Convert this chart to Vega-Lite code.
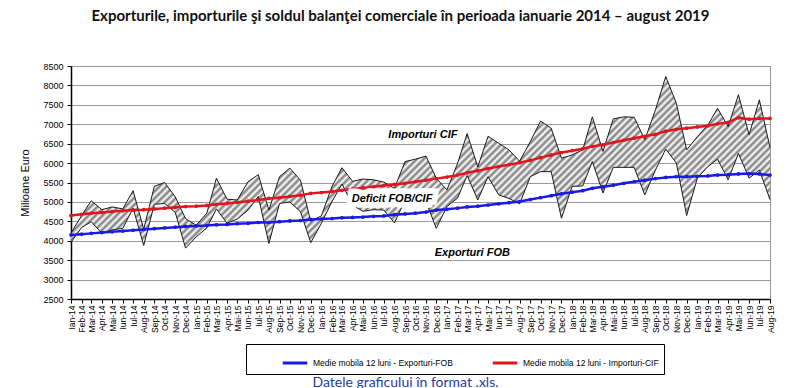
{
  "$schema": "https://vega.github.io/schema/vega-lite/v6.json",
  "width": 699,
  "height": 233,
  "autosize": "none",
  "padding": {"left": 71, "top": 66, "right": 30, "bottom": 89},
  "background": "white",
  "config": {
    "font": "Liberation Sans",
    "numberFormat": "d",
    "view": {"stroke": "#9a9a9a", "strokeWidth": 1},
    "axisY": {
      "tickCount": 12,
      "labelOverlap": false,
      "grid": true,
      "gridColor": "#9a9a9a",
      "gridWidth": 1,
      "domainColor": "#000000",
      "domainWidth": 1.5,
      "tickColor": "#000000",
      "tickSize": 4,
      "labelFontSize": 9,
      "labelColor": "#000000",
      "labelPadding": 4,
      "titleFont": "Liberation Sans",
      "titleFontSize": 11,
      "titleFontWeight": "normal",
      "titleColor": "#000000",
      "titlePadding": 12
    }
  },
  "title": {
    "text": "Exporturile, importurile şi soldul balanţei comerciale în perioada ianuarie 2014 – august 2019",
    "font": "Lato",
    "fontSize": 15,
    "fontWeight": "bold",
    "color": "#111111",
    "anchor": "middle",
    "dx": -20,
    "offset": 38
  },
  "datasets": {
    "comert": [
      {"luna": "2014-01-01", "exp": 3960, "imp": 4200, "mexp": 4150, "mimp": 4650},
      {"luna": "2014-02-01", "exp": 4340, "imp": 4650, "mexp": 4170, "mimp": 4680},
      {"luna": "2014-03-01", "exp": 4490, "imp": 5030, "mexp": 4190, "mimp": 4710},
      {"luna": "2014-04-01", "exp": 4190, "imp": 4800, "mexp": 4210, "mimp": 4730},
      {"luna": "2014-05-01", "exp": 4280, "imp": 4870, "mexp": 4230, "mimp": 4750},
      {"luna": "2014-06-01", "exp": 4320, "imp": 4820, "mexp": 4250, "mimp": 4770},
      {"luna": "2014-07-01", "exp": 4840, "imp": 5290, "mexp": 4270, "mimp": 4790},
      {"luna": "2014-08-01", "exp": 3880, "imp": 4300, "mexp": 4290, "mimp": 4800},
      {"luna": "2014-09-01", "exp": 4940, "imp": 5400, "mexp": 4310, "mimp": 4820},
      {"luna": "2014-10-01", "exp": 4960, "imp": 5500, "mexp": 4330, "mimp": 4840},
      {"luna": "2014-11-01", "exp": 4730, "imp": 5130, "mexp": 4350, "mimp": 4860},
      {"luna": "2014-12-01", "exp": 3810, "imp": 4570, "mexp": 4370, "mimp": 4880},
      {"luna": "2015-01-01", "exp": 4100, "imp": 4400, "mexp": 4380, "mimp": 4890},
      {"luna": "2015-02-01", "exp": 4330, "imp": 4710, "mexp": 4390, "mimp": 4910},
      {"luna": "2015-03-01", "exp": 4820, "imp": 5610, "mexp": 4410, "mimp": 4940},
      {"luna": "2015-04-01", "exp": 4450, "imp": 5070, "mexp": 4420, "mimp": 4960},
      {"luna": "2015-05-01", "exp": 4560, "imp": 5050, "mexp": 4440, "mimp": 4990},
      {"luna": "2015-06-01", "exp": 4790, "imp": 5520, "mexp": 4450, "mimp": 5020},
      {"luna": "2015-07-01", "exp": 5140, "imp": 5700, "mexp": 4470, "mimp": 5050},
      {"luna": "2015-08-01", "exp": 3930, "imp": 4790, "mexp": 4470, "mimp": 5090},
      {"luna": "2015-09-01", "exp": 4960, "imp": 5650, "mexp": 4490, "mimp": 5110},
      {"luna": "2015-10-01", "exp": 5000, "imp": 5870, "mexp": 4510, "mimp": 5140},
      {"luna": "2015-11-01", "exp": 4750, "imp": 5560, "mexp": 4520, "mimp": 5170},
      {"luna": "2015-12-01", "exp": 3950, "imp": 4500, "mexp": 4550, "mimp": 5220},
      {"luna": "2016-01-01", "exp": 4450, "imp": 4640, "mexp": 4560, "mimp": 5240},
      {"luna": "2016-02-01", "exp": 5010, "imp": 5400, "mexp": 4570, "mimp": 5270},
      {"luna": "2016-03-01", "exp": 5460, "imp": 5880, "mexp": 4590, "mimp": 5300},
      {"luna": "2016-04-01", "exp": 4920, "imp": 5530, "mexp": 4600, "mimp": 5330},
      {"luna": "2016-05-01", "exp": 4760, "imp": 5590, "mexp": 4610, "mimp": 5360},
      {"luna": "2016-06-01", "exp": 4800, "imp": 5570, "mexp": 4630, "mimp": 5390},
      {"luna": "2016-07-01", "exp": 4790, "imp": 5510, "mexp": 4640, "mimp": 5420},
      {"luna": "2016-08-01", "exp": 4460, "imp": 5350, "mexp": 4670, "mimp": 5450},
      {"luna": "2016-09-01", "exp": 5050, "imp": 6040, "mexp": 4690, "mimp": 5480},
      {"luna": "2016-10-01", "exp": 4950, "imp": 6100, "mexp": 4710, "mimp": 5520},
      {"luna": "2016-11-01", "exp": 5010, "imp": 6180, "mexp": 4740, "mimp": 5560},
      {"luna": "2016-12-01", "exp": 4320, "imp": 5610, "mexp": 4790, "mimp": 5600},
      {"luna": "2017-01-01", "exp": 4880, "imp": 5310, "mexp": 4810, "mimp": 5640},
      {"luna": "2017-02-01", "exp": 5100, "imp": 5990, "mexp": 4840, "mimp": 5690},
      {"luna": "2017-03-01", "exp": 5680, "imp": 6760, "mexp": 4870, "mimp": 5750},
      {"luna": "2017-04-01", "exp": 5050, "imp": 5900, "mexp": 4890, "mimp": 5800},
      {"luna": "2017-05-01", "exp": 5650, "imp": 6690, "mexp": 4920, "mimp": 5860},
      {"luna": "2017-06-01", "exp": 5180, "imp": 6510, "mexp": 4950, "mimp": 5910},
      {"luna": "2017-07-01", "exp": 5090, "imp": 6340, "mexp": 4980, "mimp": 5960},
      {"luna": "2017-08-01", "exp": 4950, "imp": 6050, "mexp": 5010, "mimp": 6010},
      {"luna": "2017-09-01", "exp": 5650, "imp": 6550, "mexp": 5060, "mimp": 6070},
      {"luna": "2017-10-01", "exp": 5780, "imp": 7080, "mexp": 5110, "mimp": 6140},
      {"luna": "2017-11-01", "exp": 5780, "imp": 6900, "mexp": 5160, "mimp": 6210},
      {"luna": "2017-12-01", "exp": 4580, "imp": 6125, "mexp": 5210, "mimp": 6270},
      {"luna": "2018-01-01", "exp": 5400, "imp": 6210, "mexp": 5250, "mimp": 6320},
      {"luna": "2018-02-01", "exp": 5410, "imp": 6340, "mexp": 5290, "mimp": 6370},
      {"luna": "2018-03-01", "exp": 6040, "imp": 7190, "mexp": 5350, "mimp": 6430},
      {"luna": "2018-04-01", "exp": 5230, "imp": 6300, "mexp": 5390, "mimp": 6470},
      {"luna": "2018-05-01", "exp": 5890, "imp": 7140, "mexp": 5430, "mimp": 6530},
      {"luna": "2018-06-01", "exp": 5890, "imp": 7190, "mexp": 5480, "mimp": 6590},
      {"luna": "2018-07-01", "exp": 5890, "imp": 7180, "mexp": 5520, "mimp": 6640},
      {"luna": "2018-08-01", "exp": 5180, "imp": 6600, "mexp": 5560, "mimp": 6690},
      {"luna": "2018-09-01", "exp": 5820, "imp": 7370, "mexp": 5600, "mimp": 6740},
      {"luna": "2018-10-01", "exp": 6360, "imp": 8230, "mexp": 5630, "mimp": 6820},
      {"luna": "2018-11-01", "exp": 6000, "imp": 7540, "mexp": 5650, "mimp": 6870},
      {"luna": "2018-12-01", "exp": 4650, "imp": 6340, "mexp": 5650, "mimp": 6900},
      {"luna": "2019-01-01", "exp": 5610, "imp": 6680, "mexp": 5660, "mimp": 6930},
      {"luna": "2019-02-01", "exp": 5910, "imp": 6980, "mexp": 5670, "mimp": 6960},
      {"luna": "2019-03-01", "exp": 6100, "imp": 7410, "mexp": 5690, "mimp": 7010},
      {"luna": "2019-04-01", "exp": 5570, "imp": 6940, "mexp": 5700, "mimp": 7050},
      {"luna": "2019-05-01", "exp": 6250, "imp": 7760, "mexp": 5720, "mimp": 7170},
      {"luna": "2019-06-01", "exp": 5610, "imp": 6730, "mexp": 5730, "mimp": 7130},
      {"luna": "2019-07-01", "exp": 5820, "imp": 7630, "mexp": 5720, "mimp": 7150},
      {"luna": "2019-08-01", "exp": 5060, "imp": 6400, "mexp": 5690, "mimp": 7150}
    ],
    "etichete": [
      {"luna": "2016-10-23", "v": 6730, "t": "Importuri CIF"},
      {"luna": "2016-07-25", "v": 5077, "t": "Deficit FOB/CIF"},
      {"luna": "2017-03-16", "v": 3685, "t": "Exporturi FOB"}
    ]
  },
  "encoding": {
    "x": {
      "field": "luna",
      "type": "temporal",
      "title": "Datele graficului în format .xls.",
      "scale": {
        "type": "utc",
        "domain": [
          {"year": 2014, "month": 1, "date": 1, "utc": true},
          {"year": 2019, "month": 8, "date": 1, "utc": true}
        ]
      },
      "axis": {
        "tickCount": {"interval": "month", "step": 1},
        "labelExpr": "['Ian','Feb','Mar','Apr','Mai','Iun','Iul','Aug','Sep','Oct','Nov','Dec'][utcmonth(datum.value)] + '-' + utcFormat(datum.value, '%y')",
        "labelAngle": 270,
        "labelFontSize": 8.5,
        "labelColor": "#000000",
        "labelPadding": 2,
        "labelOverlap": false,
        "labelFlush": false,
        "tickColor": "#000000",
        "tickSize": 4,
        "domainColor": "#000000",
        "domainWidth": 1.5,
        "grid": false,
        "titleFont": "Lato",
        "titleFontSize": 14,
        "titleFontWeight": "normal",
        "titleColor": "#1f3ca6",
        "titleX": 334,
        "titleY": 83,
        "titleBaseline": "middle",
        "titleAlign": "center"
      }
    }
  },
  "layer": [
    {
      "data": {"name": "comert"},
      "mark": {
        "type": "area",
        "interpolate": "linear",
        "fill": {
          "gradient": "linear",
          "x1": 0, "y1": 0, "x2": 1.175, "y2": 0.2886,
          "stops": [
            {"offset": 0, "color": "#ffffff"}, {"offset": 0.004, "color": "#7a7a7a"}, {"offset": 0.008, "color": "#ffffff"}, {"offset": 0.012, "color": "#7a7a7a"}, {"offset": 0.016, "color": "#ffffff"}, {"offset": 0.02, "color": "#7a7a7a"}, {"offset": 0.024, "color": "#ffffff"}, {"offset": 0.028, "color": "#7a7a7a"}, {"offset": 0.032, "color": "#ffffff"}, {"offset": 0.036, "color": "#7a7a7a"}, {"offset": 0.04, "color": "#ffffff"}, {"offset": 0.044, "color": "#7a7a7a"}, {"offset": 0.048, "color": "#ffffff"}, {"offset": 0.052, "color": "#7a7a7a"}, {"offset": 0.056, "color": "#ffffff"}, {"offset": 0.06, "color": "#7a7a7a"}, {"offset": 0.064, "color": "#ffffff"}, {"offset": 0.068, "color": "#7a7a7a"}, {"offset": 0.072, "color": "#ffffff"}, {"offset": 0.076, "color": "#7a7a7a"}, {"offset": 0.08, "color": "#ffffff"}, {"offset": 0.084, "color": "#7a7a7a"}, {"offset": 0.088, "color": "#ffffff"}, {"offset": 0.092, "color": "#7a7a7a"}, {"offset": 0.096, "color": "#ffffff"},
            {"offset": 0.1, "color": "#7a7a7a"}, {"offset": 0.104, "color": "#ffffff"}, {"offset": 0.108, "color": "#7a7a7a"}, {"offset": 0.112, "color": "#ffffff"}, {"offset": 0.116, "color": "#7a7a7a"}, {"offset": 0.12, "color": "#ffffff"}, {"offset": 0.124, "color": "#7a7a7a"}, {"offset": 0.128, "color": "#ffffff"}, {"offset": 0.132, "color": "#7a7a7a"}, {"offset": 0.136, "color": "#ffffff"}, {"offset": 0.14, "color": "#7a7a7a"}, {"offset": 0.144, "color": "#ffffff"}, {"offset": 0.148, "color": "#7a7a7a"}, {"offset": 0.152, "color": "#ffffff"}, {"offset": 0.156, "color": "#7a7a7a"}, {"offset": 0.16, "color": "#ffffff"}, {"offset": 0.164, "color": "#7a7a7a"}, {"offset": 0.168, "color": "#ffffff"}, {"offset": 0.172, "color": "#7a7a7a"}, {"offset": 0.176, "color": "#ffffff"}, {"offset": 0.18, "color": "#7a7a7a"}, {"offset": 0.184, "color": "#ffffff"}, {"offset": 0.188, "color": "#7a7a7a"}, {"offset": 0.192, "color": "#ffffff"}, {"offset": 0.196, "color": "#7a7a7a"},
            {"offset": 0.2, "color": "#ffffff"}, {"offset": 0.204, "color": "#7a7a7a"}, {"offset": 0.208, "color": "#ffffff"}, {"offset": 0.212, "color": "#7a7a7a"}, {"offset": 0.216, "color": "#ffffff"}, {"offset": 0.22, "color": "#7a7a7a"}, {"offset": 0.224, "color": "#ffffff"}, {"offset": 0.228, "color": "#7a7a7a"}, {"offset": 0.232, "color": "#ffffff"}, {"offset": 0.236, "color": "#7a7a7a"}, {"offset": 0.24, "color": "#ffffff"}, {"offset": 0.244, "color": "#7a7a7a"}, {"offset": 0.248, "color": "#ffffff"}, {"offset": 0.252, "color": "#7a7a7a"}, {"offset": 0.256, "color": "#ffffff"}, {"offset": 0.26, "color": "#7a7a7a"}, {"offset": 0.264, "color": "#ffffff"}, {"offset": 0.268, "color": "#7a7a7a"}, {"offset": 0.272, "color": "#ffffff"}, {"offset": 0.276, "color": "#7a7a7a"}, {"offset": 0.28, "color": "#ffffff"}, {"offset": 0.284, "color": "#7a7a7a"}, {"offset": 0.288, "color": "#ffffff"}, {"offset": 0.292, "color": "#7a7a7a"}, {"offset": 0.296, "color": "#ffffff"},
            {"offset": 0.3, "color": "#7a7a7a"}, {"offset": 0.304, "color": "#ffffff"}, {"offset": 0.308, "color": "#7a7a7a"}, {"offset": 0.312, "color": "#ffffff"}, {"offset": 0.316, "color": "#7a7a7a"}, {"offset": 0.32, "color": "#ffffff"}, {"offset": 0.324, "color": "#7a7a7a"}, {"offset": 0.328, "color": "#ffffff"}, {"offset": 0.332, "color": "#7a7a7a"}, {"offset": 0.336, "color": "#ffffff"}, {"offset": 0.34, "color": "#7a7a7a"}, {"offset": 0.344, "color": "#ffffff"}, {"offset": 0.348, "color": "#7a7a7a"}, {"offset": 0.352, "color": "#ffffff"}, {"offset": 0.356, "color": "#7a7a7a"}, {"offset": 0.36, "color": "#ffffff"}, {"offset": 0.364, "color": "#7a7a7a"}, {"offset": 0.368, "color": "#ffffff"}, {"offset": 0.372, "color": "#7a7a7a"}, {"offset": 0.376, "color": "#ffffff"}, {"offset": 0.38, "color": "#7a7a7a"}, {"offset": 0.384, "color": "#ffffff"}, {"offset": 0.388, "color": "#7a7a7a"}, {"offset": 0.392, "color": "#ffffff"}, {"offset": 0.396, "color": "#7a7a7a"},
            {"offset": 0.4, "color": "#ffffff"}, {"offset": 0.404, "color": "#7a7a7a"}, {"offset": 0.408, "color": "#ffffff"}, {"offset": 0.412, "color": "#7a7a7a"}, {"offset": 0.416, "color": "#ffffff"}, {"offset": 0.42, "color": "#7a7a7a"}, {"offset": 0.424, "color": "#ffffff"}, {"offset": 0.428, "color": "#7a7a7a"}, {"offset": 0.432, "color": "#ffffff"}, {"offset": 0.436, "color": "#7a7a7a"}, {"offset": 0.44, "color": "#ffffff"}, {"offset": 0.444, "color": "#7a7a7a"}, {"offset": 0.448, "color": "#ffffff"}, {"offset": 0.452, "color": "#7a7a7a"}, {"offset": 0.456, "color": "#ffffff"}, {"offset": 0.46, "color": "#7a7a7a"}, {"offset": 0.464, "color": "#ffffff"}, {"offset": 0.468, "color": "#7a7a7a"}, {"offset": 0.472, "color": "#ffffff"}, {"offset": 0.476, "color": "#7a7a7a"}, {"offset": 0.48, "color": "#ffffff"}, {"offset": 0.484, "color": "#7a7a7a"}, {"offset": 0.488, "color": "#ffffff"}, {"offset": 0.492, "color": "#7a7a7a"}, {"offset": 0.496, "color": "#ffffff"},
            {"offset": 0.5, "color": "#7a7a7a"}, {"offset": 0.504, "color": "#ffffff"}, {"offset": 0.508, "color": "#7a7a7a"}, {"offset": 0.512, "color": "#ffffff"}, {"offset": 0.516, "color": "#7a7a7a"}, {"offset": 0.52, "color": "#ffffff"}, {"offset": 0.524, "color": "#7a7a7a"}, {"offset": 0.528, "color": "#ffffff"}, {"offset": 0.532, "color": "#7a7a7a"}, {"offset": 0.536, "color": "#ffffff"}, {"offset": 0.54, "color": "#7a7a7a"}, {"offset": 0.544, "color": "#ffffff"}, {"offset": 0.548, "color": "#7a7a7a"}, {"offset": 0.552, "color": "#ffffff"}, {"offset": 0.556, "color": "#7a7a7a"}, {"offset": 0.56, "color": "#ffffff"}, {"offset": 0.564, "color": "#7a7a7a"}, {"offset": 0.568, "color": "#ffffff"}, {"offset": 0.572, "color": "#7a7a7a"}, {"offset": 0.576, "color": "#ffffff"}, {"offset": 0.58, "color": "#7a7a7a"}, {"offset": 0.584, "color": "#ffffff"}, {"offset": 0.588, "color": "#7a7a7a"}, {"offset": 0.592, "color": "#ffffff"}, {"offset": 0.596, "color": "#7a7a7a"},
            {"offset": 0.6, "color": "#ffffff"}, {"offset": 0.604, "color": "#7a7a7a"}, {"offset": 0.608, "color": "#ffffff"}, {"offset": 0.612, "color": "#7a7a7a"}, {"offset": 0.616, "color": "#ffffff"}, {"offset": 0.62, "color": "#7a7a7a"}, {"offset": 0.624, "color": "#ffffff"}, {"offset": 0.628, "color": "#7a7a7a"}, {"offset": 0.632, "color": "#ffffff"}, {"offset": 0.636, "color": "#7a7a7a"}, {"offset": 0.64, "color": "#ffffff"}, {"offset": 0.644, "color": "#7a7a7a"}, {"offset": 0.648, "color": "#ffffff"}, {"offset": 0.652, "color": "#7a7a7a"}, {"offset": 0.656, "color": "#ffffff"}, {"offset": 0.66, "color": "#7a7a7a"}, {"offset": 0.664, "color": "#ffffff"}, {"offset": 0.668, "color": "#7a7a7a"}, {"offset": 0.672, "color": "#ffffff"}, {"offset": 0.676, "color": "#7a7a7a"}, {"offset": 0.68, "color": "#ffffff"}, {"offset": 0.684, "color": "#7a7a7a"}, {"offset": 0.688, "color": "#ffffff"}, {"offset": 0.692, "color": "#7a7a7a"}, {"offset": 0.696, "color": "#ffffff"},
            {"offset": 0.7, "color": "#7a7a7a"}, {"offset": 0.704, "color": "#ffffff"}, {"offset": 0.708, "color": "#7a7a7a"}, {"offset": 0.712, "color": "#ffffff"}, {"offset": 0.716, "color": "#7a7a7a"}, {"offset": 0.72, "color": "#ffffff"}, {"offset": 0.724, "color": "#7a7a7a"}, {"offset": 0.728, "color": "#ffffff"}, {"offset": 0.732, "color": "#7a7a7a"}, {"offset": 0.736, "color": "#ffffff"}, {"offset": 0.74, "color": "#7a7a7a"}, {"offset": 0.744, "color": "#ffffff"}, {"offset": 0.748, "color": "#7a7a7a"}, {"offset": 0.752, "color": "#ffffff"}, {"offset": 0.756, "color": "#7a7a7a"}, {"offset": 0.76, "color": "#ffffff"}, {"offset": 0.764, "color": "#7a7a7a"}, {"offset": 0.768, "color": "#ffffff"}, {"offset": 0.772, "color": "#7a7a7a"}, {"offset": 0.776, "color": "#ffffff"}, {"offset": 0.78, "color": "#7a7a7a"}, {"offset": 0.784, "color": "#ffffff"}, {"offset": 0.788, "color": "#7a7a7a"}, {"offset": 0.792, "color": "#ffffff"}, {"offset": 0.796, "color": "#7a7a7a"},
            {"offset": 0.8, "color": "#ffffff"}, {"offset": 0.804, "color": "#7a7a7a"}, {"offset": 0.808, "color": "#ffffff"}, {"offset": 0.812, "color": "#7a7a7a"}, {"offset": 0.816, "color": "#ffffff"}, {"offset": 0.82, "color": "#7a7a7a"}, {"offset": 0.824, "color": "#ffffff"}, {"offset": 0.828, "color": "#7a7a7a"}, {"offset": 0.832, "color": "#ffffff"}, {"offset": 0.836, "color": "#7a7a7a"}, {"offset": 0.84, "color": "#ffffff"}, {"offset": 0.844, "color": "#7a7a7a"}, {"offset": 0.848, "color": "#ffffff"}, {"offset": 0.852, "color": "#7a7a7a"}, {"offset": 0.856, "color": "#ffffff"}, {"offset": 0.86, "color": "#7a7a7a"}, {"offset": 0.864, "color": "#ffffff"}, {"offset": 0.868, "color": "#7a7a7a"}, {"offset": 0.872, "color": "#ffffff"}, {"offset": 0.876, "color": "#7a7a7a"}, {"offset": 0.88, "color": "#ffffff"}, {"offset": 0.884, "color": "#7a7a7a"}, {"offset": 0.888, "color": "#ffffff"}, {"offset": 0.892, "color": "#7a7a7a"}, {"offset": 0.896, "color": "#ffffff"},
            {"offset": 0.9, "color": "#7a7a7a"}, {"offset": 0.904, "color": "#ffffff"}, {"offset": 0.908, "color": "#7a7a7a"}, {"offset": 0.912, "color": "#ffffff"}, {"offset": 0.916, "color": "#7a7a7a"}, {"offset": 0.92, "color": "#ffffff"}, {"offset": 0.924, "color": "#7a7a7a"}, {"offset": 0.928, "color": "#ffffff"}, {"offset": 0.932, "color": "#7a7a7a"}, {"offset": 0.936, "color": "#ffffff"}, {"offset": 0.94, "color": "#7a7a7a"}, {"offset": 0.944, "color": "#ffffff"}, {"offset": 0.948, "color": "#7a7a7a"}, {"offset": 0.952, "color": "#ffffff"}, {"offset": 0.956, "color": "#7a7a7a"}, {"offset": 0.96, "color": "#ffffff"}, {"offset": 0.964, "color": "#7a7a7a"}, {"offset": 0.968, "color": "#ffffff"}, {"offset": 0.972, "color": "#7a7a7a"}, {"offset": 0.976, "color": "#ffffff"}, {"offset": 0.98, "color": "#7a7a7a"}, {"offset": 0.984, "color": "#ffffff"}, {"offset": 0.988, "color": "#7a7a7a"}, {"offset": 0.992, "color": "#ffffff"}, {"offset": 0.996, "color": "#7a7a7a"},
            {"offset": 1, "color": "#ffffff"}
          ]
        }
      },
      "encoding": {
        "y": {
          "field": "imp",
          "type": "quantitative",
          "title": "Milioane Euro",
          "scale": {"domain": [2500, 8500], "nice": false, "zero": false}
        },
        "y2": {"field": "exp"}
      }
    },
    {
      "data": {"name": "comert"},
      "mark": {"type": "line", "color": "#1a1a1a", "strokeWidth": 1},
      "encoding": {
        "y": {"field": "imp", "type": "quantitative", "title": "Milioane Euro"}
      }
    },
    {
      "data": {"name": "comert"},
      "mark": {"type": "line", "color": "#1a1a1a", "strokeWidth": 1},
      "encoding": {
        "y": {"field": "exp", "type": "quantitative", "title": "Milioane Euro"}
      }
    },
    {
      "data": {"name": "comert"},
      "transform": [{"fold": ["mexp", "mimp"], "as": ["serie", "val"]}],
      "mark": {"type": "line", "strokeWidth": 2.5, "point": {"filled": true, "size": 14}},
      "encoding": {
        "y": {"field": "val", "type": "quantitative", "title": "Milioane Euro"},
        "color": {
          "field": "serie",
          "type": "nominal",
          "scale": {"domain": ["mexp", "mimp"], "range": ["#1a1ae6", "#e3141c"]},
          "legend": {
            "orient": "none",
            "legendX": 175,
            "legendY": 278,
            "direction": "horizontal",
            "title": null,
            "strokeColor": "#000000",
            "fillColor": "#ffffff",
            "padding": 5,
            "columnPadding": 8,
            "symbolOffset": 30,
            "symbolType": "stroke",
            "symbolStrokeWidth": 3,
            "symbolSize": 600,
            "labelFontSize": 8.5,
            "labelColor": "#000000",
            "labelLimit": 300,
            "labelExpr": "datum.label == 'mexp' ? 'Medie mobila 12 luni - Exporturi-FOB' : 'Medie mobila 12 luni - Importuri-CIF'"
          }
        }
      }
    },
    {
      "data": {"name": "etichete"},
      "transform": [{"filter": "datum.t == 'Deficit FOB/CIF'"}],
      "mark": {"type": "text", "fontSize": 11, "fontWeight": "bold", "fontStyle": "italic", "stroke": "#ffffff", "strokeWidth": 11, "strokeJoin": "miter", "color": "#ffffff"},
      "encoding": {
        "y": {"field": "v", "type": "quantitative", "title": "Milioane Euro"},
        "text": {"field": "t"}
      }
    },
    {
      "data": {"name": "etichete"},
      "mark": {"type": "text", "fontSize": 11, "fontWeight": "bold", "fontStyle": "italic", "color": "#000000"},
      "encoding": {
        "y": {"field": "v", "type": "quantitative", "title": "Milioane Euro"},
        "text": {"field": "t"}
      }
    }
  ]
}
